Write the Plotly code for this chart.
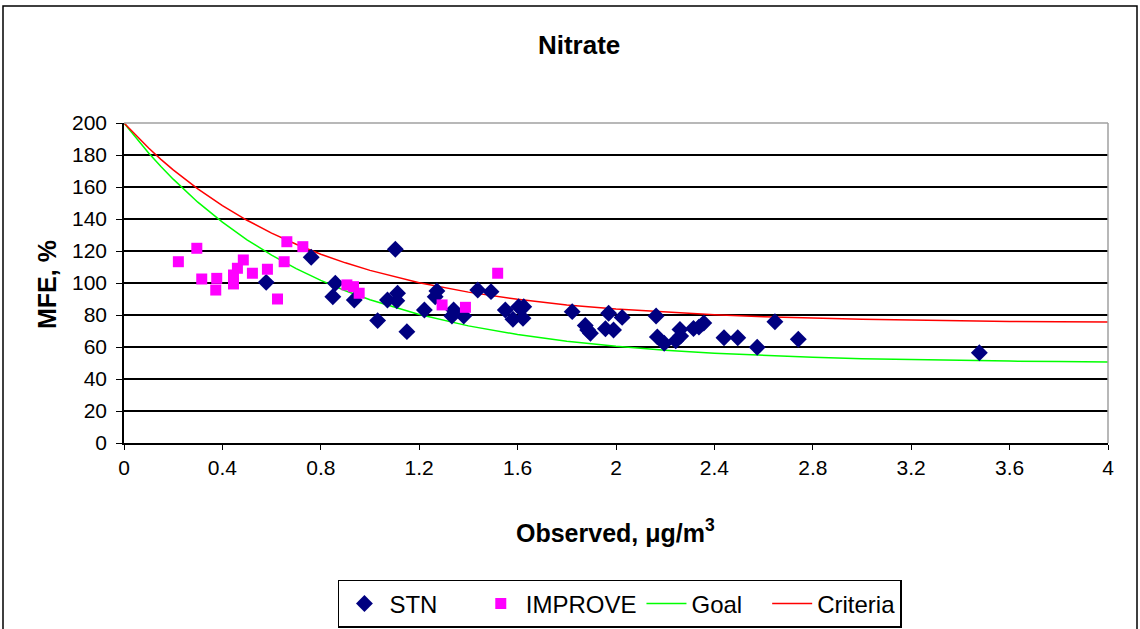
import plotly.graph_objects as go

# STN (navy diamonds)
stn_x = [0.578, 0.761, 0.859, 0.849, 0.936, 1.031, 1.071, 1.103, 1.112, 1.109, 1.150,
         1.221, 1.265, 1.272, 1.333, 1.340, 1.381, 1.438, 1.492, 1.550, 1.581, 1.604,
         1.625, 1.622, 1.822, 1.875, 1.885, 1.896, 1.957, 1.970, 1.990, 2.025, 2.163,
         2.168, 2.196, 2.243, 2.260, 2.263, 2.315, 2.337, 2.357, 2.439, 2.495, 2.574,
         2.646, 2.741, 3.477]
stn_y = [100.4, 116.1, 99.8, 91.4, 89.4, 76.5, 89.4, 121.1, 93.6, 88.9, 69.6,
         83.1, 91.4, 95.0, 79.4, 83.1, 79.4, 95.6, 94.6, 83.1, 77.3, 85.2,
         85.2, 77.9, 82.1, 73.5, 70.6, 68.6, 71.4, 81.1, 70.6, 78.5, 79.4,
         66.3, 62.3, 63.9, 71.0, 66.8, 71.6, 72.4, 75.0, 65.8, 65.8, 59.8,
         75.8, 64.8, 56.4]

# IMPROVE (magenta squares)
imp_x = [0.221, 0.296, 0.316, 0.377, 0.373, 0.445, 0.445, 0.461, 0.485, 0.522,
         0.583, 0.624, 0.651, 0.662, 0.727, 0.906, 0.933, 0.956, 1.293, 1.388, 1.519]
imp_y = [113.3, 121.7, 102.5, 102.9, 95.6, 105.0, 99.4, 109.2, 114.4, 106.1,
         108.6, 90.0, 113.3, 125.8, 122.7, 98.8, 97.7, 93.6, 86.3, 84.8, 106.1]

# Goal and Criteria curves
curve_x = [0, 0.05, 0.1, 0.15, 0.2, 0.3, 0.4, 0.5, 0.6, 0.7, 0.8, 0.9, 1.0, 1.2, 1.4,
           1.6, 1.8, 2.0, 2.2, 2.4, 2.6, 2.8, 3.0, 3.2, 3.4, 3.6, 3.8, 4.0]
goal_y = [200, 190.3, 181.3, 172.8, 164.9, 150.5, 138.0, 127.0, 117.4, 109.0, 101.6,
          95.2, 89.5, 80.3, 73.2, 67.8, 63.6, 60.4, 58.0, 56.1, 54.7, 53.6, 52.7,
          52.1, 51.6, 51.2, 50.9, 50.7]
crit_y = [200, 191.9, 184.4, 177.3, 170.7, 158.8, 148.3, 139.2, 131.2, 124.2, 118.0,
          112.6, 107.9, 100.2, 94.3, 89.8, 86.3, 83.7, 81.7, 80.1, 78.9, 78.0, 77.3,
          76.8, 76.3, 76.0, 75.8, 75.6]

x_ticks = [0, 0.4, 0.8, 1.2, 1.6, 2, 2.4, 2.8, 3.2, 3.6, 4]
x_tick_text = ["0", "0.4", "0.8", "1.2", "1.6", "2", "2.4", "2.8", "3.2", "3.6", "4"]
y_ticks = [0, 20, 40, 60, 80, 100, 120, 140, 160, 180, 200]

FONT = "Liberation Sans, Arial, sans-serif"
NB = "\u00a0"

fig = go.Figure()
fig.add_trace(go.Scatter(x=curve_x, y=goal_y, mode="lines", name="Goal" + NB * 3,
                         line=dict(color="#00FF00", width=1.5), legendrank=3))
fig.add_trace(go.Scatter(x=curve_x, y=crit_y, mode="lines", name="Criteria",
                         line=dict(color="#FF0000", width=1.5), legendrank=4))
fig.add_trace(go.Scatter(x=stn_x, y=stn_y, mode="markers", name="STN" + NB * 5,
                         marker=dict(symbol="diamond", color="#000080", size=13),
                         legendrank=1))
fig.add_trace(go.Scatter(x=imp_x, y=imp_y, mode="markers", name="IMPROVE",
                         marker=dict(symbol="square", color="#FF00FF", size=11),
                         legendrank=2))

fig.update_layout(
    width=1140, height=629,
    margin=dict(l=124, r=32, t=123, b=186, autoexpand=False),
    paper_bgcolor="white", plot_bgcolor="white",
    font=dict(family=FONT, color="black", size=21),
    title=dict(text="<b>Nitrate</b>", x=0.508, xanchor="center", y=0.928, yanchor="middle",
               font=dict(size=26, family=FONT)),
    showlegend=True,
    legend=dict(orientation="h", x=0.504, xanchor="center", y=-0.428, yanchor="top",
                bordercolor="black", borderwidth=1.5, bgcolor="white",
                font=dict(size=24, family=FONT), itemwidth=40,
                traceorder="normal"),
    xaxis=dict(range=[0, 4], tickvals=x_ticks, ticktext=x_tick_text, automargin=False,
               showgrid=False, zeroline=False, showline=True, linecolor="black",
               linewidth=1.5, ticks="outside", ticklen=5, tickcolor="black",
               tickfont=dict(size=21, family=FONT)),
    yaxis=dict(range=[0, 200], tickvals=y_ticks, automargin=False,
               showgrid=True, gridcolor="black", gridwidth=1.5,
               zeroline=False, showline=True, linecolor="black", linewidth=1.5,
               ticks="outside", ticklen=6, tickcolor="black", ticklabelstandoff=5,
               tickfont=dict(size=21, family=FONT)),
)

# axis titles
fig.add_annotation(text="<b>Observed, μg/m<sup>3</sup></b>", xref="paper", yref="paper",
                   x=(615 - 124) / 984, y=(443 - 531) / 320, xanchor="center",
                   yanchor="middle", showarrow=False, font=dict(size=25, family=FONT))
fig.add_annotation(text="<b>MFE, %</b>", xref="paper", yref="paper",
                   x=(47 - 124) / 984, y=(443 - 285) / 320, xanchor="center",
                   yanchor="middle", textangle=-90, showarrow=False,
                   font=dict(size=25, family=FONT))

# gray plot-area border on top and right
fig.add_shape(type="line", xref="paper", yref="paper", x0=0, x1=1, y0=1, y1=1,
              line=dict(color="#A0A0A0", width=1.5), layer="above")
fig.add_shape(type="line", xref="paper", yref="paper", x0=1, x1=1, y0=0, y1=1,
              line=dict(color="#A0A0A0", width=1.5), layer="above")
# outer chart frame
fig.add_shape(type="rect", xref="paper", yref="paper",
              x0=(3 - 124) / 984, x1=(1137 - 124) / 984,
              y0=(443 - 660) / 320, y1=(443 - 6) / 320,
              line=dict(color="black", width=1.5), fillcolor="rgba(0,0,0,0)",
              layer="below")

fig.write_html("out.html")
